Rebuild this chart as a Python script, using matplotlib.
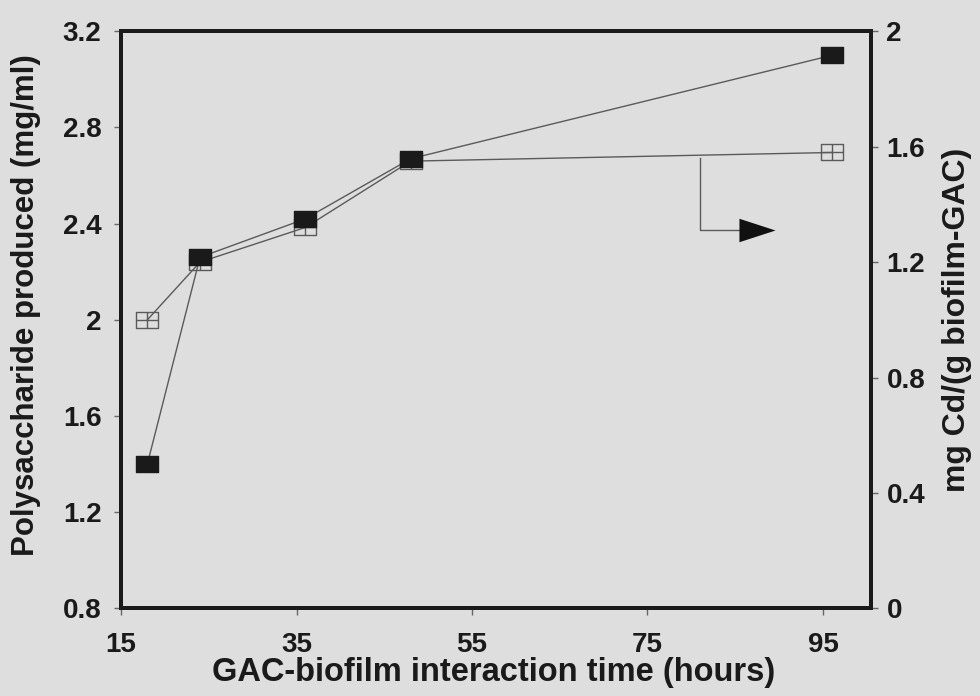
import matplotlib.pyplot as plt
from matplotlib.path import Path

plt.rcParams['font.family'] = ['Liberation Sans', 'DejaVu Sans']
plt.rcParams['font.weight'] = 'bold'

# interaction time (h)
hours = [18, 24, 36, 48, 96]
# polysaccharide (mg/ml), left axis
polysaccharide = [1.40, 2.26, 2.42, 2.67, 3.10]
# Cd uptake mg Cd/(g biofilm-GAC), right axis
cd_uptake = [1.00, 1.20, 1.32, 1.55, 1.58]

x_ticks = [15, 35, 55, 75, 95]
left_ticks = [0.8, 1.2, 1.6, 2.0, 2.4, 2.8, 3.2]
left_labels = ['0.8', '1.2', '1.6', '2', '2.4', '2.8', '3.2']
right_ticks = [0, 0.4, 0.8, 1.2, 1.6, 2.0]
right_labels = ['0', '0.4', '0.8', '1.2', '1.6', '2']

bg = '#dedede'
ink = '#1a1a1a'
line_col = '#5a5a5a'

# rectangle with a cross inside, for the open markers
verts = [(-1, -0.75), (1, -0.75), (1, 0.75), (-1, 0.75), (-1, -0.75),
         (0, -0.75), (0, 0.75), (-1, 0), (1, 0)]
codes = [Path.MOVETO, Path.LINETO, Path.LINETO, Path.LINETO, Path.CLOSEPOLY,
         Path.MOVETO, Path.LINETO, Path.MOVETO, Path.LINETO]
box_cross = Path(verts, codes)
box = Path([(-1, -0.75), (1, -0.75), (1, 0.75), (-1, 0.75), (-1, -0.75)],
           [Path.MOVETO, Path.LINETO, Path.LINETO, Path.LINETO, Path.CLOSEPOLY])
arrow_head = Path([(-1, -0.65), (1, 0), (-1, 0.65), (-1, -0.65)],
                  [Path.MOVETO, Path.LINETO, Path.LINETO, Path.CLOSEPOLY])

fig = plt.figure(figsize=(9.8, 6.96), dpi=100)
fig.set_facecolor(bg)
ax = fig.add_axes([0.1235, 0.126, 0.7655, 0.829])
ax.set_facecolor(bg)
ax2 = ax.twinx()

ax2.plot(hours, cd_uptake, color=line_col, lw=1.0, marker=box_cross,
         markersize=15.5, markerfacecolor='none', markeredgecolor=line_col,
         markeredgewidth=1.0, zorder=2)
ax.plot(hours, polysaccharide, color=line_col, lw=1.0, marker=box,
        markersize=15.5, markerfacecolor=ink, markeredgecolor=ink,
        zorder=3)
ax.set_zorder(ax2.get_zorder() + 1)
ax.patch.set_visible(False)

ax.set_xlim(15, 100.5)
ax.set_ylim(0.8, 3.2)
ax2.set_ylim(0, 2)

ax.set_xticks(x_ticks)
ax.set_yticks(left_ticks)
ax.set_yticklabels(left_labels)
ax2.set_yticks(right_ticks)
ax2.set_yticklabels(right_labels)

for a in (ax, ax2):
    for s in a.spines.values():
        s.set_linewidth(2.8)
        s.set_color(ink)
    a.tick_params(direction='out', length=5, width=1, color='#666666',
                  labelsize=20, labelcolor=ink)
ax.tick_params(axis='x', pad=12)
ax.tick_params(axis='y', pad=9)
ax2.tick_params(axis='y', pad=6)

ax.set_xlabel('GAC-biofilm interaction time (hours)', fontsize=23.5,
              fontweight='bold', color=ink)
ax.xaxis.set_label_coords(0.497, -0.085)
ax.set_ylabel('Polysaccharide produced (mg/ml)', fontsize=22.5,
              fontweight='bold', color=ink)
ax.yaxis.set_label_coords(-0.107, 0.525)
ax2.set_ylabel('mg Cd/(g biofilm-GAC)', fontsize=23,
               fontweight='bold', color=ink, labelpad=12)

# arrow pointing the open-square series to the right axis
ax2.plot([81, 81, 85.5], [cd_uptake[-2] + 0.01, 1.31, 1.31], color=line_col,
         lw=1.0, zorder=2)
ax2.plot([87.5], [1.31], marker=arrow_head, markersize=26, color='#111111',
         markeredgewidth=0, zorder=2)

fig.savefig('out.png', dpi=100, facecolor=bg)
